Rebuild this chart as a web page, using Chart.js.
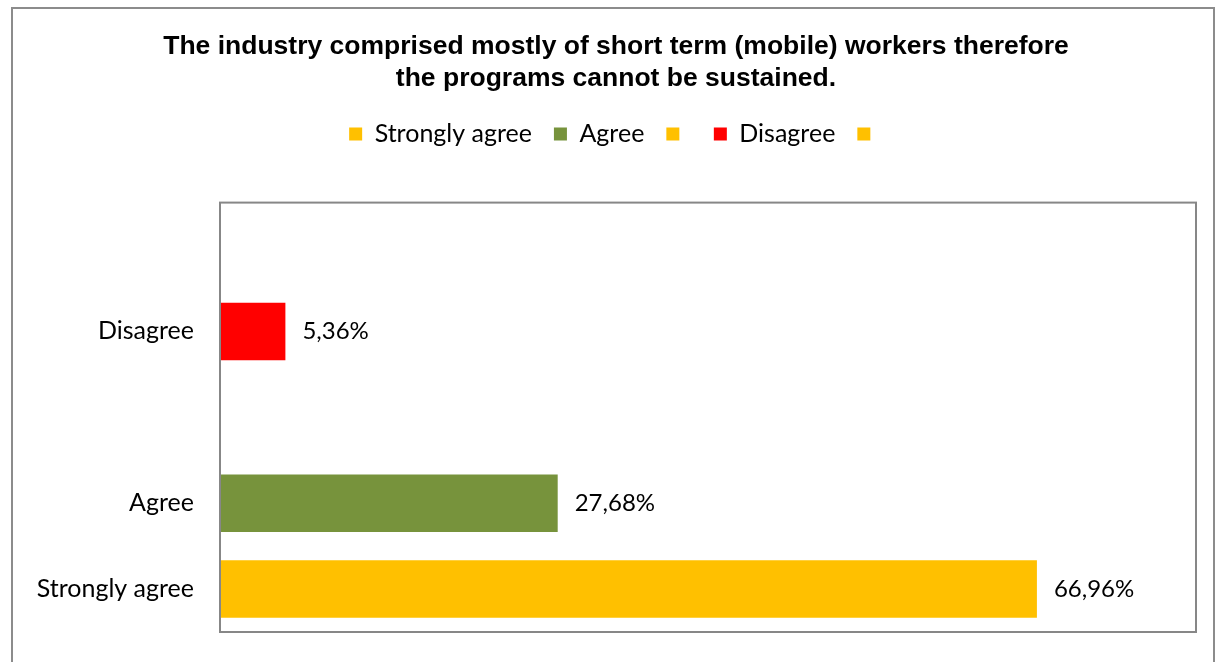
<!DOCTYPE html>
<html>
<head>
<meta charset="utf-8">
<script src="https://cdn.jsdelivr.net/npm/chart.js@4.4.1/dist/chart.umd.min.js"></script>
<style>
  html, body { margin: 0; padding: 0; background: #fff; }
</style>
</head>
<body>
<canvas id="barChart" width="1216" height="662"></canvas>
<script>
// categories listed bottom to top, blank ones have no name in the source
const categories = ["Strongly agree", "Agree", "", "Disagree", ""];
const shares = [66.96, 27.68, null, 5.36, null];
const barColors = ["#FFC000", "#77933C", "#FFC000", "#FF0000", "#FFC000"];
const titleLines = [
  "The industry comprised mostly of short term (mobile) workers therefore",
  "the programs cannot be sustained."
];

const labelFont = "Lato, Calibri, sans-serif";

function formatShare(v) {
  return v.toFixed(2).replace(".", ",") + "%";
}

// white page with the grey outer frame
const frame = {
  id: "frame",
  beforeDraw(chart) {
    const c = chart.ctx;
    c.save();
    c.fillStyle = "#fff";
    c.fillRect(0, 0, chart.width, chart.height);
    c.strokeStyle = "#8c8c8c";
    c.lineWidth = 2;
    c.strokeRect(12, 8, 1202, 700);
    c.restore();
  },
  afterDraw(chart) {
    const a = chart.chartArea;
    const c = chart.ctx;
    c.save();
    c.strokeStyle = "#878787";
    c.lineWidth = 2;
    c.strokeRect(a.left, a.top, a.right - a.left, a.bottom - a.top);
    c.restore();
  }
};

// extra room under the legend, like the gap above the plot in the original
const legendGap = {
  id: "legendGap",
  beforeInit(chart) {
    const fit = chart.legend.fit;
    chart.legend.fit = function () {
      fit.bind(chart.legend)();
      this.height += 46;
    };
  }
};

// value labels right of each bar
const valueLabels = {
  id: "valueLabels",
  afterDatasetsDraw(chart) {
    const c = chart.ctx;
    const meta = chart.getDatasetMeta(0);
    c.save();
    c.font = "24px " + labelFont;
    c.fillStyle = "#000";
    c.textBaseline = "middle";
    meta.data.forEach((bar, i) => {
      const v = shares[i];
      if (v == null) return;
      c.fillText(formatShare(v), bar.x + 17, bar.y);
    });
    c.restore();
  }
};

const ctx = document.getElementById("barChart").getContext("2d");
const myChart = new Chart(ctx, {
  type: "bar",
  data: {
    labels: categories,
    datasets: [
      {
        label: "Share",
        data: shares,
        backgroundColor: barColors,
        borderWidth: 0,
        categoryPercentage: 1,
        barPercentage: 0.67,
      },
    ],
  },
  options: {
    indexAxis: "y",
    responsive: false,
    animation: false,
    layout: {
      padding: { left: 36, right: 20, top: 0, bottom: 30 },
    },
    scales: {
      x: {
        display: false,
        min: 0,
        max: 80,
      },
      y: {
        reverse: true,
        grid: { display: false, drawTicks: false },
        border: { display: false },
        ticks: {
          color: "#000",
          padding: 26,
          font: { family: labelFont, size: 25 },
        },
        afterFit(scale) {
          scale.width = 184;
          // label overhang padding would push the plot bottom up
          scale.paddingTop = 0;
          scale.paddingBottom = 0;
        },
      },
    },
    plugins: {
      title: {
        display: true,
        text: titleLines,
        color: "#000",
        font: { family: "'Liberation Sans', Arial, sans-serif", size: 26.5, weight: "bold" },
        lineHeight: 1.06,
        padding: { top: 31, bottom: 5 },
      },
      legend: {
        display: true,
        labels: {
          boxWidth: 13,
          boxHeight: 13,
          padding: 22,
          color: "#000",
          font: { family: labelFont, size: 25 },
          generateLabels(chart) {
            return categories.map((name, i) => ({
              text: name,
              fillStyle: barColors[i],
              strokeStyle: barColors[i],
              lineWidth: 0,
              hidden: false,
              index: i,
            }));
          },
        },
        onClick() {},
      },
      tooltip: { enabled: false },
    },
  },
  plugins: [frame, legendGap, valueLabels],
});
</script>
</body>
</html>
